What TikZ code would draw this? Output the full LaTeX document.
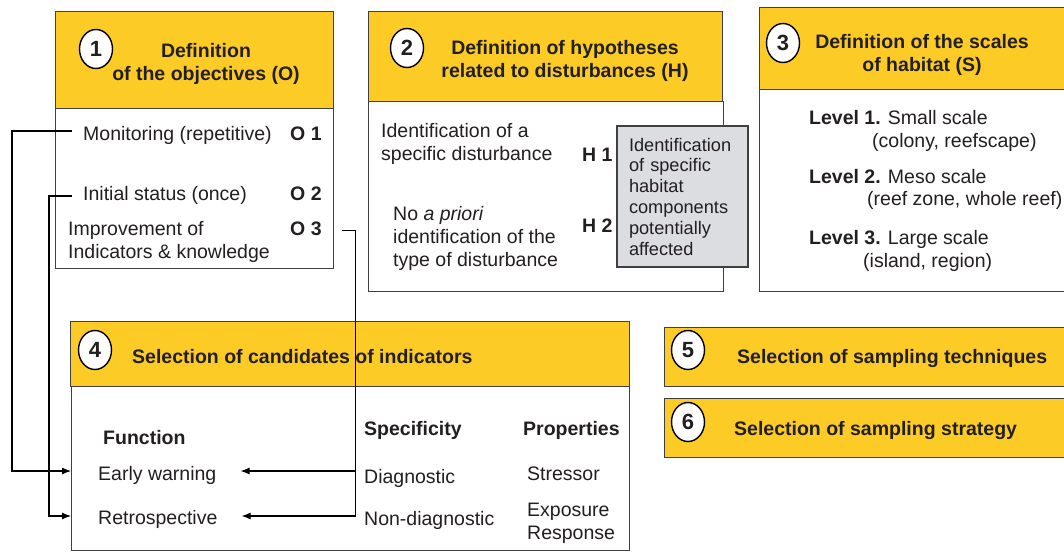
\documentclass[tikz,border=0pt]{standalone}
\usepackage{fontspec}
\setmainfont{Liberation Sans}
\usetikzlibrary{arrows.meta,shapes.geometric}
\definecolor{ochre}{RGB}{252,203,38}
\definecolor{boxline}{RGB}{64,64,64}
\definecolor{ink}{RGB}{35,31,32}
\definecolor{shade}{RGB}{220,221,224}
\newcommand{\mainsize}{\fontsize{19.5}{23}\selectfont}
\newcommand{\smallsize}{\fontsize{18.2}{20.8}\selectfont}
\tikzset{
  panel/.style={draw=boxline, line width=1.2pt, anchor=north west, inner sep=0pt},
  headbox/.style={panel, fill=ochre},
  bodybox/.style={panel, fill=white},
  num/.style={ellipse, draw=black, fill=white, line width=1.4pt, minimum width=33pt, minimum height=39pt, inner sep=0pt, text=ink, font=\fontsize{22}{22}\selectfont\bfseries},
  ttl/.style={text=ink, inner sep=0pt, align=center, font=\mainsize\bfseries},
  txt/.style={text=ink, inner sep=0pt, anchor=base west, font=\mainsize},
  btxt/.style={txt, font=\mainsize\bfseries},
  para/.style={text=ink, inner sep=0pt, anchor=north west, align=left, font=\mainsize},
  conn/.style={draw=black, line width=1.1pt},
  arr/.style={conn, -{Latex[length=9pt,width=7pt]}},
}
\begin{document}
\begin{tikzpicture}[x=1pt,y=-1pt]
\useasboundingbox (0,0) rectangle (1064,552);

% 1 objectives
\node[bodybox, minimum width=278pt, minimum height=160pt] (obj) at (55,108) {};
\node[headbox, minimum width=278pt, minimum height=97pt] (objhead) at (55,11) {};
\node[num] (n1) at (96,49) {1};
\node[ttl, anchor=north] (objttl) at (206,43) {Definition\\of the objectives (O)};
\node[txt] (mon) at (83,140) {Monitoring (repetitive)};
\node[btxt] (o1) at (290,140) {O 1};
\node[txt] (init) at (83,200) {Initial status (once)};
\node[btxt] (o2) at (290,200) {O 2};
\node[para] (impr) at (68,221) {Improvement of\\Indicators \& knowledge};
\node[btxt] (o3) at (290,235) {O 3};

% 2 hypotheses
\node[bodybox, minimum width=355pt, minimum height=190pt] (hyp) at (368,101) {};
\node[headbox, minimum width=354pt, minimum height=90pt] (hyphead) at (368,11) {};
\node[num] (n2) at (407,48) {2};
\node[ttl, anchor=north] (hypttl) at (565,40) {Definition of hypotheses\\related to disturbances (H)};
\node[para] (dist1) at (381,123) {Identification of a\\specific disturbance};
\node[btxt] (hy1) at (582,161) {H 1};
\node[para] (dist2) at (393,206) {No \textit{a priori}\\identification of the\\type of disturbance};
\node[btxt] (hy2) at (582,232) {H 2};
\node[draw=boxline, fill=shade, line width=1.2pt, minimum width=131pt, minimum height=141pt,
      text width=107pt, inner xsep=12pt, inner ysep=0pt, align=left, text=ink, font=\smallsize]
      (comp) at (682.5,196.5) {Identification\\of specific\\habitat\\components\\potentially\\affected};

% 3 scales
\node[bodybox, minimum width=330pt, minimum height=202pt] (scl) at (759,89) {};
\node[headbox, minimum width=330pt, minimum height=82pt] (sclhead) at (759,7) {};
\node[num] (n3) at (783,43) {3};
\node[ttl, anchor=north] (sclttl) at (922,34) {Definition of the scales\\of habitat (S)};
\node[txt] (lev1) at (809,124) {\textbf{Level 1.} Small scale};
\node[txt] (lev1b) at (872,147) {(colony, reefscape)};
\node[txt] (lev2) at (809,183) {\textbf{Level 2.} Meso scale};
\node[txt] (lev2b) at (867,205) {(reef zone, whole reef)};
\node[txt] (lev3) at (809,244) {\textbf{Level 3.} Large scale};
\node[txt] (lev3b) at (863,267) {(island, region)};

% 4 indicators
\node[bodybox, minimum width=558pt, minimum height=164pt] (ind) at (71,386) {};
\node[headbox, minimum width=559pt, minimum height=65pt] (indhead) at (70,321) {};
\node[num] (n4) at (95,350) {4};
\node[btxt] (indttl) at (132,363) {Selection of candidates of indicators};
\node[btxt] (func) at (103,444) {Function};
\node[txt] (early) at (98,480) {Early warning};
\node[txt] (retro) at (98,524) {Retrospective};
\node[btxt] (spec) at (364,435) {Specificity};
\node[txt] (diag) at (364,483) {Diagnostic};
\node[txt] (nondiag) at (364,525) {Non-diagnostic};
\node[btxt] (prop) at (523,435) {Properties};
\node[txt] (stress) at (527,480) {Stressor};
\node[para] (expo) at (527,503) {Exposure\\Response};

% 5 and 6
\node[headbox, minimum width=430pt, minimum height=59pt] (tech) at (664,327) {};
\node[num] (n5) at (688,350) {5};
\node[btxt] (techttl) at (737,363) {Selection of sampling techniques};
\node[headbox, minimum width=430pt, minimum height=59pt] (strat) at (664,398) {};
\node[num] (n6) at (688,422) {6};
\node[btxt] (stratttl) at (734,435) {Selection of sampling strategy};

% connectors
\coordinate (rowE) at (0,471);
\coordinate (rowR) at (0,516);
\draw[arr] ([xshift=-11pt,yshift=4pt]mon.west) -- ++(-60,0) |- (ind.west |- rowE);
\draw[arr] ([xshift=-11pt,yshift=-1pt]init.west) -- ++(-23,0) |- (ind.west |- rowR);
\draw[arr, shorten >=24pt] ([xshift=20pt,yshift=-2pt]o3.east) -- ++(14,0) coordinate (trunk) |- (retro.east |- rowR);
\draw[arr, shorten >=24pt] (trunk |- rowE) -- (early.east |- rowE);
\end{tikzpicture}
\end{document}
